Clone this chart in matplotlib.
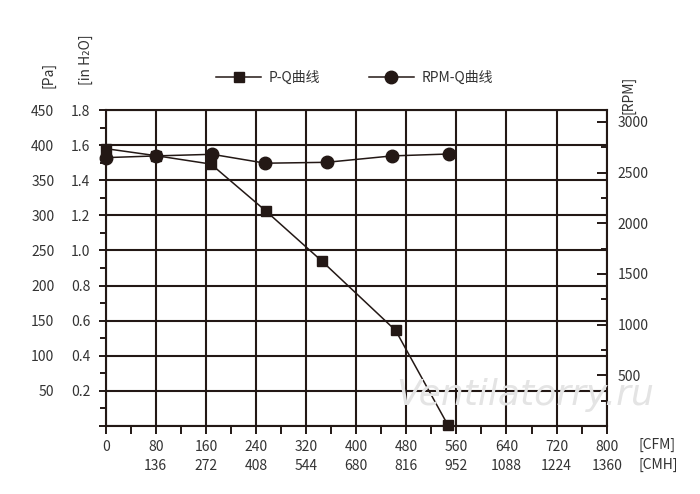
import matplotlib
matplotlib.use("Agg")
import matplotlib.pyplot as plt
from matplotlib.ticker import MultipleLocator, FixedLocator, NullFormatter
from matplotlib.lines import Line2D

plt.rcParams['font.family'] = ['Noto Sans CJK SC', 'DejaVu Sans']

# data
pq_cfm = [0, 80, 168, 256, 345, 463, 546]
pq_pa = [395, 385, 373, 306, 235, 136, 2]
rpm_cfm = [0, 80, 170, 255, 353, 457, 548]
rpm_val = [2648, 2665, 2681, 2593, 2602, 2665, 2684]

cfm_ticks = [0, 80, 160, 240, 320, 400, 480, 560, 640, 720, 800]
cmh_labels = ["", "136", "272", "408", "544", "680", "816", "952", "1088", "1224", "1360"]
pa_ticks = [0, 50, 100, 150, 200, 250, 300, 350, 400, 450]
inh2o_labels = ["", "0.2", "0.4", "0.6", "0.8", "1.0", "1.2", "1.4", "1.6", "1.8"]
rpm_ticks = [500, 1000, 1500, 2000, 2500, 3000]

ink = "#231815"
lab = "#333333"

fig = plt.figure(figsize=(7, 4.94), dpi=100)
ax = fig.add_axes([0.151, 0.1377, 0.7157, 0.6396])

ax.set_xlim(0, 800)
ax.set_ylim(0, 450)
ax.set_xticks(cfm_ticks)
ax.set_yticks(pa_ticks)
ax.set_yticklabels(["" if v == 0 else str(v) for v in pa_ticks])
ax.xaxis.set_minor_locator(MultipleLocator(40))
ax.yaxis.set_minor_locator(MultipleLocator(25))
ax.tick_params(axis='y', which='major', length=5, width=1.4, color=ink, pad=32,
               labelsize=10, labelcolor=lab)
ax.tick_params(axis='y', which='minor', length=4, width=1.4, color=ink)
ax.tick_params(axis='x', which='major', length=6, width=1.4, color=ink, pad=4,
               labelsize=10, labelcolor=lab)
ax.tick_params(axis='x', which='minor', length=6, width=1.4, color=ink)
ax.grid(True, which='major', color=ink, linewidth=1.5)
for s in ax.spines.values():
    s.set_color(ink)
    s.set_linewidth(1.5)

# second column of left labels (in H2O)
sec_y = ax.secondary_yaxis('left')
sec_y.set_yticks(pa_ticks)
sec_y.set_yticklabels(inh2o_labels)
sec_y.tick_params(length=0, pad=11, labelsize=10, labelcolor=lab)
sec_y.spines['left'].set_visible(False)

# second row of bottom labels (CMH)
sec_x = ax.secondary_xaxis('bottom')
sec_x.set_xticks(cfm_ticks)
sec_x.set_xticklabels(cmh_labels)
sec_x.tick_params(length=0, pad=24, labelsize=10, labelcolor=lab)
sec_x.spines['bottom'].set_visible(False)

ax.plot(pq_cfm, pq_pa, color=ink, linewidth=1.1, marker='s', markersize=6.5,
        zorder=5, clip_on=False)

ax2 = ax.twinx()
ax2.set_ylim(0, 3118)
ax2.yaxis.set_major_locator(FixedLocator(rpm_ticks))
ax2.yaxis.set_minor_locator(FixedLocator([250, 750, 1250, 1750, 2250, 2750]))
ax2.yaxis.set_minor_formatter(NullFormatter())
ax2.tick_params(axis='y', which='major', direction='in', length=7, width=1.4,
                color=ink, pad=8, labelsize=10, labelcolor=lab)
ax2.tick_params(axis='y', which='minor', direction='in', length=4, width=1.4, color=ink)
for s in ax2.spines.values():
    s.set_visible(False)
ax2.plot(rpm_cfm, rpm_val, color=ink, linewidth=1.1, marker='o', markersize=9,
         zorder=5, clip_on=False)

# unit labels
fig.text(48 / 700, 1 - 75 / 494, "[Pa]", rotation=90, ha='center', va='center',
         fontsize=10, color=lab)
fig.text(86 / 700, 1 - 60 / 494, "[in H₂O]", rotation=90, ha='center', va='center',
         fontsize=10, color=lab)
fig.text(628 / 700, 1 - 95 / 494, "[RPM]", rotation=90, ha='center', va='center',
         fontsize=10, color=lab)
fig.text(638 / 700, 1 - 445 / 494, "[CFM]", ha='left', va='center', fontsize=10, color=lab)
fig.text(638 / 700, 1 - 465 / 494, "[CMH]", ha='left', va='center', fontsize=10, color=lab)

# watermark
fig.text(525 / 700, 1 - 395 / 494, "Ventilatorry.ru", ha='center', va='center',
         fontsize=26, style='italic', family='DejaVu Sans', color='#e4e4e4', zorder=0)

handles = [
    Line2D([], [], color=ink, linewidth=1.1, marker='s', markersize=6.5),
    Line2D([], [], color=ink, linewidth=1.1, marker='o', markersize=9),
]
fig.legend(handles, ["P-Q曲线", "RPM-Q曲线"], loc='center', ncol=2,
           bbox_to_anchor=(0.507, 1 - 78 / 494), frameon=False, fontsize=10,
           handlelength=3.2, columnspacing=3.5, handletextpad=0.6, labelcolor=lab)

fig.savefig("out.png", dpi=100)
